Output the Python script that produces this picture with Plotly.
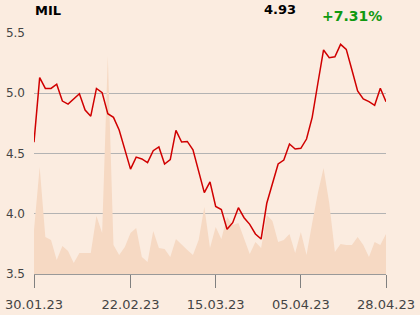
import pandas as pd
import plotly.graph_objects as go

# trading days (Borsa Italiana, Easter holidays closed)
holidays = ["2023-04-07", "2023-04-10"]
days = [d for d in pd.bdate_range("2023-01-30", "2023-04-28") if d.strftime("%Y-%m-%d") not in holidays]
dates = [d.strftime("%d.%m.%y") for d in days]
idx = list(range(len(dates)))

price = [4.594, 5.13, 5.04, 5.04, 5.075, 4.935, 4.91, 4.95, 4.996, 4.86,
         4.81, 5.04, 5.005, 4.83, 4.80, 4.695, 4.543, 4.37, 4.47, 4.455,
         4.424, 4.523, 4.554, 4.413, 4.449, 4.692, 4.595, 4.60, 4.53, 4.363,
         4.175, 4.264, 4.06, 4.035, 3.871, 3.926, 4.05, 3.967, 3.912, 3.832,
         3.79, 4.087, 4.253, 4.413, 4.446, 4.579, 4.537, 4.543, 4.62, 4.80,
         5.083, 5.359, 5.295, 5.303, 5.406, 5.364, 5.193, 5.019, 4.952, 4.93,
         4.90, 5.041, 4.93]

volume_px = [230, 167, 237, 240, 260, 246, 251, 263, 253, 253,
             253, 216, 233, 56, 245, 255, 247, 233, 228, 257,
             262, 231, 248, 249, 257, 239, 245, 250, 255, 240,
             207, 248, 227, 239, 217, 225, 223, 238, 254, 242,
             248, 215, 221, 242, 240, 234, 253, 232, 255, 223,
             193, 168, 203, 252, 244, 245, 245, 237, 245, 257,
             242, 245, 234]
volume = [274 - v for v in volume_px]

tick_labels = ["30.01.23", "22.02.23", "15.03.23", "05.04.23", "28.04.23"]
tick_pos = [dates.index(t) for t in tick_labels]
y_ticks = [3.5, 4.0, 4.5, 5.0, 5.5]
title = "MIL"
last_value = "4.93"
change = "+7.31%"

BG = "#fbece0"
fig = go.Figure()
fig.add_trace(go.Scatter(x=idx, y=volume, mode="lines", line=dict(width=0, color="#f6d9c3"),
                         fill="tozeroy", fillcolor="#f6d9c3", yaxis="y", hoverinfo="skip"))
fig.add_trace(go.Scatter(x=idx, y=price, mode="lines", line=dict(width=1.5, color="#d00000"),
                         yaxis="y2", text=dates))

fig.update_layout(
    width=420, height=315, showlegend=False,
    paper_bgcolor=BG, plot_bgcolor=BG,
    margin=dict(l=34, r=34, t=33, b=41),
    font=dict(family="DejaVu Sans", color="#444444", size=13),
    xaxis=dict(range=[0, len(dates) - 1], tickmode="array",
               tickvals=tick_pos, ticktext=tick_labels, showgrid=False,
               showline=True, linecolor="#999999", linewidth=1, automargin=False,
               ticks="outside", ticklen=13, tickcolor="#808080", tickwidth=1,
               ticklabelstandoff=5,
               tickfont=dict(size=13, color="#444444"), zeroline=False, layer="above traces"),
    yaxis=dict(range=[0, 241], showticklabels=False, showline=False, ticks="",
               showgrid=False, zeroline=False, automargin=False),
    yaxis2=dict(overlaying="y", side="left", range=[3.5, 5.5], tickvals=y_ticks,
                tickformat=".1f", showgrid=True, gridcolor="#b3b3b3", gridwidth=1,
                zeroline=False, ticks="", ticklabelstandoff=8, automargin=False,
                tickfont=dict(size=12, color="#444444")),
)

def px_x(p):
    return (p - 34) / 352

def px_y(p):
    return (274 - p) / 241

fig.add_annotation(text="<b>%s</b>" % title, xref="paper", yref="paper", x=px_x(33), y=px_y(10.5),
                   xanchor="left", yanchor="middle", showarrow=False,
                   font=dict(size=13, color="#000000"))
fig.add_annotation(text="<b>%s</b>" % last_value, xref="paper", yref="paper", x=px_x(298), y=px_y(9.3),
                   xanchor="right", yanchor="middle", showarrow=False,
                   font=dict(size=13, color="#000000"))
fig.add_annotation(text="<b>%s</b>" % change, xref="paper", yref="paper", x=px_x(320), y=px_y(16),
                   xanchor="left", yanchor="middle", showarrow=False,
                   font=dict(size=14, color="#119911"))

fig.write_html("out.html")
